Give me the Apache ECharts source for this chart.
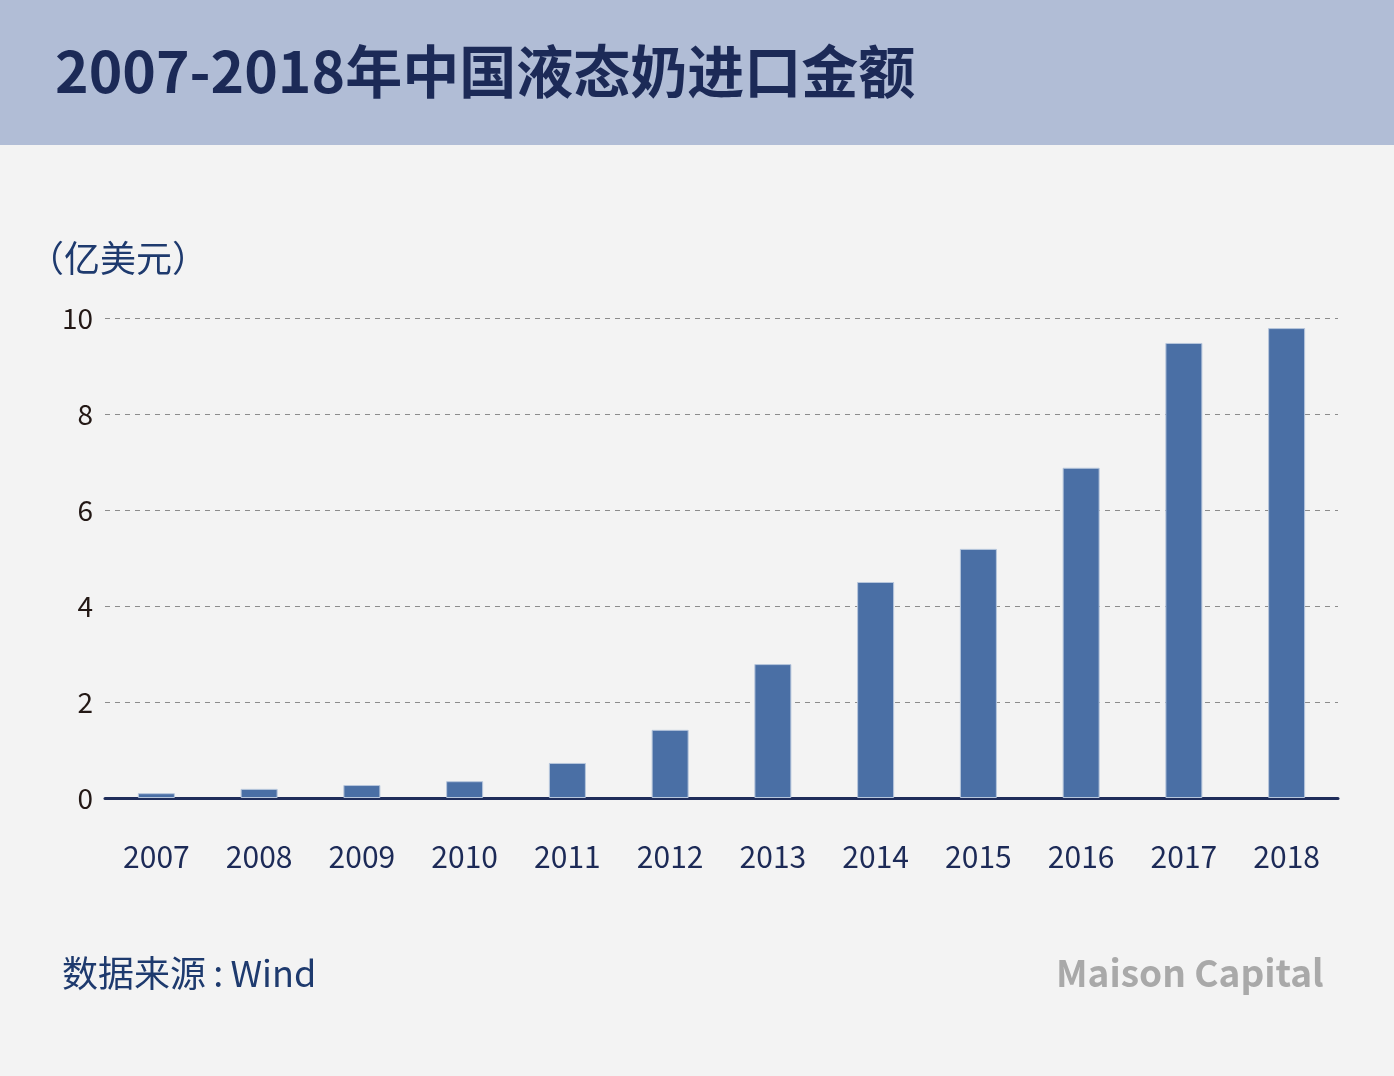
<!DOCTYPE html>
<html>
<head>
<meta charset="utf-8">
<script src="https://cdn.jsdelivr.net/npm/echarts@6/dist/echarts.min.js"></script>
<style>
html,body{margin:0;padding:0;background:#f3f3f3;}
#chart{width:1394px;height:1076px;}
</style>
</head>
<body>
<div id="chart"></div>
<script>
const titleText = '2007-2018年中国液态奶进口金额';
const unitText = '（亿美元）';
const sourceText = '数据来源\u2009:\u2009Wind';
const logoText = 'Maison Capital';
const years = ['2007','2008','2009','2010','2011','2012','2013','2014','2015','2016','2017','2018'];
const importValues = [0.1, 0.19, 0.27, 0.35, 0.73, 1.42, 2.79, 4.5, 5.19, 6.88, 9.48, 9.79];

const chart = echarts.init(document.getElementById('chart'));
const font = '"Noto Sans CJK SC", "Noto Sans", sans-serif';
chart.setOption({
  backgroundColor: '#f3f3f3',
  animation: false,
  grid: { left: 105, right: 56, top: 318, bottom: 278, containLabel: false },
  xAxis: {
    type: 'category',
    data: years,
    axisLine: { show: true, lineStyle: { color: '#1f2d5a', width: 3 } },
    axisTick: { show: false },
    axisLabel: { color: '#1c2a57', fontSize: 30, fontFamily: font, margin: 44 }
  },
  yAxis: {
    type: 'value',
    min: 0, max: 10, interval: 2,
    axisLine: { show: false },
    axisTick: { show: false },
    axisLabel: { color: '#231815', fontSize: 28, fontFamily: font, margin: 12 },
    splitLine: { show: true, lineStyle: { color: '#8c8c8c', type: [5, 5], width: 1 } }
  },
  series: [{
    type: 'bar',
    data: importValues,
    barWidth: 37,
    itemStyle: { color: '#4a6fa5', borderColor: '#b7c6dc', borderWidth: 1 },
    z: 3
  }],
  graphic: [
    { type: 'rect', left: 0, top: 0, z: -1, shape: { width: 1394, height: 145 }, style: { fill: '#b1bdd6' } },
    { type: 'text', left: 55, top: 43, style: { text: titleText, fill: '#1c2a57', font: 'bold 57px ' + font } },
    { type: 'text', left: 28, top: 240, style: { text: unitText, fill: '#1e3a6e', font: '36px ' + font } },
    { type: 'text', left: 62, top: 955, style: { text: sourceText, fill: '#1e3a6e', font: '36px ' + font } },
    { type: 'text', left: 1056, top: 954, style: { text: logoText, fill: '#a9a9a9', font: 'bold 37px ' + font } }
  ]
});
</script>
</body>
</html>
